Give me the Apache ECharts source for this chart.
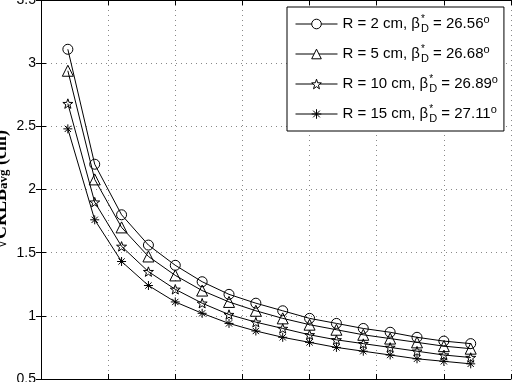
<!DOCTYPE html>
<html>
<head>
<meta charset="utf-8">
<script src="https://cdn.jsdelivr.net/npm/echarts@6/dist/echarts.min.js"></script>
<style>
  html, body { margin: 0; padding: 0; background: #fff; }
  #chart { width: 516px; height: 382px; }
</style>
</head>
<body>
<div id="chart"></div>
<script>
// x positions of the samples (axis labels are cropped out of the figure)
const xValues = [2, 4, 6, 8, 10, 12, 14, 16, 18, 20, 22, 24, 26, 28, 30, 32];

// sqrt(CRLB_avg) in cm, one array per radius
const r2 = [3.11, 2.20, 1.80, 1.56, 1.40, 1.27, 1.17, 1.10, 1.04, 0.98, 0.94, 0.90, 0.87, 0.83, 0.80, 0.78];
const r5 = [2.94, 2.08, 1.70, 1.47, 1.32, 1.20, 1.11, 1.04, 0.98, 0.93, 0.89, 0.85, 0.82, 0.79, 0.76, 0.74];
const r10 = [2.68, 1.90, 1.55, 1.35, 1.21, 1.10, 1.01, 0.95, 0.90, 0.85, 0.81, 0.78, 0.75, 0.72, 0.69, 0.67];
const r15 = [2.48, 1.76, 1.43, 1.24, 1.11, 1.02, 0.94, 0.88, 0.83, 0.79, 0.75, 0.72, 0.69, 0.66, 0.64, 0.62];

const radii = ["2", "5", "10", "15"];
const betas = ["26.56", "26.68", "26.89", "27.11"];
const yTicks = [0.5, 1, 1.5, 2, 2.5, 3, 3.5];

// marker shapes (matlab style: o, ^, pentagram, *)
const starPath = "path://M0,-10L2.35,-3.24L9.51,-3.09L3.8,1.24L5.88,8.09L0,4L-5.88,8.09L-3.8,1.24L-9.51,-3.09L-2.35,-3.24Z";
const asteriskPath = "path://M0,-10L0,10M-10,0L10,0M-7,-7L7,7M-7,7L7,-7";
const markers = [
  { symbol: "circle", size: 10 },
  { symbol: "triangle", size: 11 },
  { symbol: starPath, size: 10 },
  { symbol: asteriskPath, size: 9 },
];
const allData = [r2, r5, r10, r15];

const myChart = echarts.init(document.getElementById("chart"));

const names = radii.map((r, i) => "R = " + r + " cm, β*D = " + betas[i] + "o");

const series = allData.map((vals, i) => ({
  name: names[i],
  type: "line",
  data: vals.map((v, j) => [xValues[j], v]),
  symbol: markers[i].symbol,
  symbolSize: markers[i].size,
  symbolKeepAspect: true,
  showAllSymbol: true,
  lineStyle: { color: "#000", width: 1 },
  itemStyle: { color: "rgba(0,0,0,0)", borderColor: "#000", borderWidth: 1 },
  emphasis: { disabled: true },
  animation: false,
}));

const gridLine = { show: true, lineStyle: { color: "#888", type: [1, 4], width: 1 } };
const tick = { show: true, inside: true, length: 5, lineStyle: { color: "#000" } };
const axisLine = { show: true, lineStyle: { color: "#000", width: 1 } };

const option = {
  backgroundColor: "#fff",
  animation: false,
  grid: { left: 41, right: 5, top: 0, bottom: 3, outerBoundsMode: "none", containLabel: false },
  legend: {
    orient: "vertical",
    left: 287,
    top: 7,
    padding: [7, 6, 7, 8],
    itemGap: 10,
    itemWidth: 42,
    itemHeight: 12,
    backgroundColor: "#fff",
    borderColor: "#000",
    borderWidth: 1,
    data: names,
    lineStyle: { color: "#000", width: 1 },
    itemStyle: { color: "#fff", borderColor: "#000", borderWidth: 1 },
    formatter: (name) => {
      const i = names.indexOf(name);
      return "R = " + radii[i] + " cm, β{sup0|*}{sub|D} = " + betas[i] + "{sup|o}";
    },
    textStyle: {
      fontFamily: "Liberation Sans",
      fontSize: 15,
      color: "#000",
      lineHeight: 20,
      rich: {
        sup0: { fontFamily: "Liberation Sans", fontSize: 10, color: "#000", verticalAlign: "top", lineHeight: 10, width: 0, padding: [0, 0, 0, 1] },
        sub: { fontFamily: "Liberation Sans", fontSize: 11, color: "#000", verticalAlign: "bottom", lineHeight: 11 },
        sup: { fontFamily: "Liberation Sans", fontSize: 11, color: "#000", verticalAlign: "top", lineHeight: 11 },
      },
    },
  },
  xAxis: [
    {
      type: "value",
      min: 0,
      max: 35,
      interval: 5,
      axisLine: axisLine,
      axisTick: tick,
      axisLabel: { show: false },
      splitLine: gridLine,
    },
    {
      type: "value",
      position: "top",
      min: 0,
      max: 35,
      interval: 5,
      axisLine: axisLine,
      axisTick: tick,
      axisLabel: { show: false },
      splitLine: { show: false },
    },
  ],
  yAxis: [
    {
      type: "value",
      min: yTicks[0],
      max: yTicks[yTicks.length - 1],
      interval: 0.5,
      axisLine: axisLine,
      axisTick: tick,
      splitLine: gridLine,
      axisLabel: {
        color: "#000",
        fontFamily: "Liberation Sans",
        fontSize: 14,
        margin: 5,
      },
      name: "√CRLB{sub|avg} (cm)",
      nameLocation: "middle",
      nameGap: 31,
      nameMoveOverlap: false,
      nameTextStyle: {
        fontFamily: "Liberation Serif",
        fontWeight: "bold",
        fontSize: 18,
        color: "#000",
        rich: {
          sub: { fontFamily: "Liberation Serif", fontWeight: "bold", fontSize: 13, color: "#000", verticalAlign: "bottom", lineHeight: 13 },
        },
      },
    },
    {
      type: "value",
      position: "right",
      min: yTicks[0],
      max: yTicks[yTicks.length - 1],
      interval: 0.5,
      axisLine: axisLine,
      axisTick: tick,
      axisLabel: { show: false },
      splitLine: { show: false },
    },
  ],
  series: series,
};

myChart.setOption(option);
</script>
</body>
</html>
